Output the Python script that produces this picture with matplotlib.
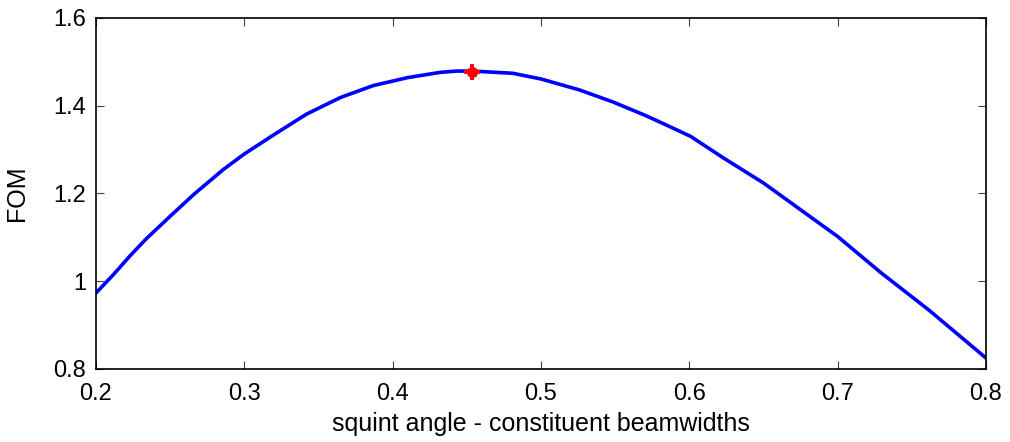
import matplotlib
matplotlib.use("Agg")
import matplotlib.pyplot as plt

# values
squint = [0.200, 0.212, 0.223, 0.234, 0.250, 0.266, 0.286, 0.300, 0.320, 0.342,
          0.365, 0.387, 0.410, 0.432, 0.443, 0.454, 0.481, 0.500, 0.526, 0.549,
          0.571, 0.589, 0.601, 0.623, 0.650, 0.684, 0.700, 0.729, 0.762, 0.800]
fom = [0.973, 1.016, 1.058, 1.097, 1.148, 1.198, 1.255, 1.290, 1.334, 1.381,
       1.419, 1.446, 1.464, 1.476, 1.479, 1.479, 1.474, 1.461, 1.436, 1.408,
       1.377, 1.349, 1.330, 1.281, 1.224, 1.141, 1.102, 1.020, 0.933, 0.825]
best_x = 0.4535
best_y = 1.478

xticks = [0.2, 0.3, 0.4, 0.5, 0.6, 0.7, 0.8]
yticks = [0.8, 1.0, 1.2, 1.4, 1.6]
yticklabels = ["0.8", "1", "1.2", "1.4", "1.6"]

plt.rcParams['font.family'] = ['Liberation Sans', 'DejaVu Sans']

fig = plt.figure(figsize=(10.1, 4.42), dpi=100)
ax = fig.add_axes([0.095, 0.1652, 0.8812, 0.7941])

ax.plot(squint, fom, '-', color=(0, 0, 1), lw=2.6)
ax.plot([best_x], [best_y], 'o', color='red', ms=7, mec='red')
ax.plot([best_x], [best_y], '+', color='red', ms=12, mew=2.8)

ax.set_xlim(0.2, 0.8)
ax.set_ylim(0.8, 1.6)
ax.set_xticks(xticks)
ax.set_xticklabels([str(t) for t in xticks])
ax.set_yticks(yticks)
ax.set_yticklabels(yticklabels)
ax.tick_params(direction='in', length=6, width=0.8, labelsize=17, pad=7,
               top=True, right=True, colors='#404040', labelcolor='black')
ax.tick_params(axis='x', pad=10)
for s in ax.spines.values():
    s.set_linewidth(1.2)
    s.set_color('black')

ax.set_xlabel("squint angle - constituent beamwidths", fontsize=18)
ax.set_ylabel("FOM", fontsize=18)
ax.xaxis.set_label_coords(0.5, -0.122)
ax.yaxis.set_label_coords(-0.075, 0.5)

fig.savefig("out.png", dpi=100)
